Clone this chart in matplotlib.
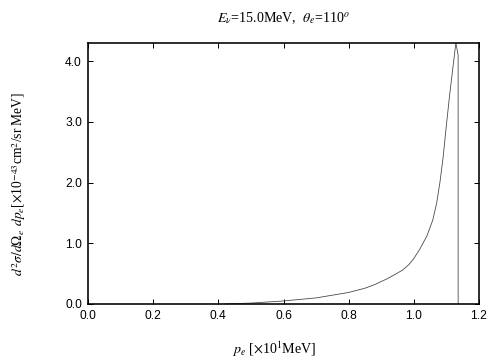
import matplotlib
matplotlib.use("Agg")
import matplotlib.pyplot as plt

# electron momentum [x10 MeV] and cross section [x10^-43 cm^2/sr MeV]
p_e = [0.42, 0.5, 0.6, 0.7, 0.8, 0.85, 0.88, 0.916, 0.94, 0.966, 0.985,
       1.0, 1.018, 1.04, 1.058, 1.07, 1.08, 1.09, 1.1, 1.11, 1.12, 1.129,
       1.136, 1.136]
xsec = [0.0, 0.015, 0.05, 0.1, 0.19, 0.26, 0.32, 0.41, 0.48, 0.56, 0.65,
        0.75, 0.9, 1.12, 1.38, 1.66, 2.0, 2.42, 2.95, 3.45, 3.9, 4.3,
        4.1, 0.0]

xticks = [0.0, 0.2, 0.4, 0.6, 0.8, 1.0, 1.2]
yticks = [0.0, 1.0, 2.0, 3.0, 4.0]

plt.rcParams['mathtext.fontset'] = 'stix'
serif = 'Liberation Serif'

fig = plt.figure(figsize=(7, 5), dpi=72)
ax = fig.add_axes([0.1746, 0.1556, 0.7758, 0.725])
ax.plot(p_e, xsec, color='#444444', lw=0.8)

ax.set_xlim(0, 1.2)
ax.set_ylim(0, 4.3)
ax.set_xticks(xticks)
ax.set_xticklabels(['%.1f' % t for t in xticks], family='Liberation Sans', fontsize=12)
ax.set_yticks(yticks)
ax.set_yticklabels(['%.1f' % t for t in yticks], family='Liberation Sans', fontsize=12)
ax.tick_params(direction='in', top=True, right=True, length=5, width=1, pad=6)
for s in ax.spines.values():
    s.set_linewidth(1.6)

fig.text(0.562, 0.95, r'$E_\nu$=15.0MeV,  $\theta_e$=110$^o$',
         ha='center', va='center', family=serif, fontsize=14)
fig.text(0.543, 0.03, r'$p_e$ [$\times$10$^1$MeV]',
         ha='center', va='center', family=serif, fontsize=14)
fig.text(0.036, 0.49, r'$d^2\sigma/d\Omega_e\;\, dp_e$[$\times$10$^{-43}$cm$^2$/sr MeV]',
         ha='center', va='center', rotation=90, family=serif, fontsize=13.5)

fig.savefig('out.png', dpi=72)
